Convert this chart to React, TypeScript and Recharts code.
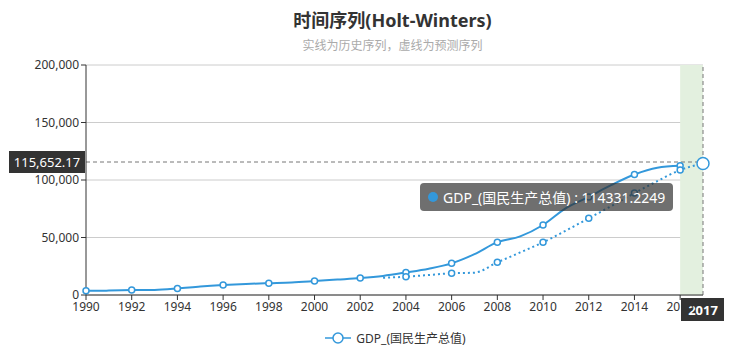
import React from "react";
import {
  LineChart,
  Line,
  XAxis,
  YAxis,
  CartesianGrid,
  Tooltip,
  ReferenceLine,
  ReferenceArea,
} from "recharts";

const years = [
  1990, 1991, 1992, 1993, 1994, 1995, 1996, 1997, 1998, 1999, 2000, 2001, 2002, 2003,
  2004, 2005, 2006, 2007, 2008, 2009, 2010, 2011, 2012, 2013, 2014, 2015, 2016, 2017,
];

// 历史序列
const gdp = [
  3609, 3834, 4269, 4447, 5643, 7345, 8638, 9616, 10290, 10940, 12114, 13394, 14706, 16603,
  19554, 22860, 27521, 35503, 45943, 51017, 60872, 75515, 85322, 95704, 104757, 110616, 112333,
  null,
];

// 预测序列
const forecast = [
  null, null, null, null, null, null, null, null, null, null, null, null, null, 15000,
  15900, 17400, 18900, 19400, 28400, 37000, 45800, 56000, 66700, 77500, 88600, 99000, 108700,
  114331.2249,
];

const xTicks = [1990, 1992, 1994, 1996, 1998, 2000, 2002, 2004, 2006, 2008, 2010, 2012, 2014, 2016];
const yTicks = [0, 50000, 100000, 150000, 200000];
const pointerY = 115652.17;
const pointerX = 2017;
const seriesName = "GDP_(国民生产总值)";

const data = years.map((year, i) => ({ year, gdp: gdp[i], forecast: forecast[i] }));

const COLOR = "#3398DB";
const FONT = "'Noto Sans', 'Noto Sans CJK SC', sans-serif";

const evenDot = (props: any) => {
  const { cx, cy, payload, value, index } = props;
  if (value == null || payload.year % 2 !== 0 || cy == null) return <g key={`d${index}`} />;
  return (
    <circle key={`d${index}`} cx={cx} cy={cy} r={3} fill="#fff" stroke={COLOR} strokeWidth={1.5} />
  );
};

const TipBox = ({ payload }: any) => {
  const p = (payload || []).find((e: any) => e.dataKey === "forecast");
  if (!p) return null;
  return (
    <div
      style={{
        background: "rgba(50,50,50,0.7)",
        borderRadius: 4,
        padding: "4px 8px",
        color: "#fff",
        fontSize: 14,
        fontFamily: FONT,
        whiteSpace: "nowrap",
        display: "flex",
        alignItems: "center",
      }}
    >
      <span
        style={{
          display: "inline-block",
          width: 10,
          height: 10,
          borderRadius: 5,
          background: COLOR,
          marginRight: 5,
        }}
      />
      {seriesName} : {p.value}
    </div>
  );
};

const YPointerLabel = (props: any) => {
  const { viewBox } = props;
  const x = viewBox.x;
  const y = viewBox.y;
  return (
    <g>
      <rect x={x - 77} y={y - 11} width={76} height={22} fill="#333" />
      <text x={x - 39} y={y + 5} textAnchor="middle" fill="#fff" fontSize={13} fontFamily={FONT}>
        {pointerY.toLocaleString("en-US", { minimumFractionDigits: 2 })}
      </text>
    </g>
  );
};

const XPointerLabel = (props: any) => {
  const { viewBox } = props;
  const x = viewBox.x;
  const y = viewBox.y + viewBox.height;
  return (
    <g>
      <rect x={x - 22} y={y + 3} width={43} height={23} fill="#333" />
      <text x={x} y={y + 20} textAnchor="middle" fill="#fff" fontSize={13} fontWeight="bold" fontFamily={FONT}>
        {pointerX}
      </text>
    </g>
  );
};

export default function App() {
  return (
    <div style={{ position: "absolute", left: 0, top: 0, width: 731, height: 355, background: "#fff", fontFamily: FONT }}>
      <div style={{ position: "absolute", left: 27, width: 731, top: 6, textAlign: "center", fontSize: 18, fontWeight: "bold", color: "#333" }}>
        时间序列(Holt-Winters)
      </div>
      <div style={{ position: "absolute", left: 27, width: 731, top: 36, textAlign: "center", fontSize: 12, color: "#aaa" }}>
        实线为历史序列，虚线为预测序列
      </div>
      <LineChart
        width={731}
        height={355}
        data={data}
        margin={{ top: 65, right: 28, bottom: 30, left: 8 }}
      >
        <ReferenceArea x1={2016} x2={2017} fill="#e3f0df" fillOpacity={1} stroke="none" />
        <CartesianGrid vertical={false} stroke="#ccc" />
        <XAxis
          dataKey="year"
          type="number"
          domain={[1990, 2017]}
          ticks={xTicks}
          interval={0}
          height={30}
          tick={{ fill: "#333", fontSize: 12, fontFamily: FONT }}
          tickSize={5}
          stroke="#333"
        />
        <YAxis
          type="number"
          domain={[0, 200000]}
          ticks={yTicks}
          width={78}
          tickFormatter={(v: number) => v.toLocaleString("en-US")}
          tick={{ fill: "#333", fontSize: 12, fontFamily: FONT }}
          tickSize={5}
          stroke="#333"
        />
        <Line
          type="monotone"
          dataKey="gdp"
          name={seriesName}
          stroke={COLOR}
          strokeWidth={2}
          dot={evenDot}
          activeDot={false}
          isAnimationActive={false}
        />
        <Line
          type="monotone"
          dataKey="forecast"
          name={seriesName}
          stroke={COLOR}
          strokeWidth={2}
          strokeDasharray="2 3"
          dot={evenDot}
          activeDot={{ r: 6, fill: "#fff", stroke: COLOR, strokeWidth: 1.5 }}
          isAnimationActive={false}
        />
        <ReferenceLine y={pointerY} stroke="#777" strokeDasharray="4 3" label={<YPointerLabel />} />
        <ReferenceLine x={pointerX} stroke="#777" strokeDasharray="4 3" label={<XPointerLabel />} />
        <Tooltip
          defaultIndex={27}
          active={true}
          cursor={false}
          position={{ x: 420, y: 183 }}
          content={<TipBox />}
          isAnimationActive={false}
        />
      </LineChart>
      <div
        style={{
          position: "absolute",
          top: 329,
          left: 30,
          width: 731,
          display: "flex",
          justifyContent: "center",
          alignItems: "center",
          fontSize: 12,
          color: "#333",
        }}
      >
        <svg width={26} height={14} style={{ marginRight: 5 }}>
          <line x1={0} y1={7} x2={26} y2={7} stroke={COLOR} strokeWidth={1.5} />
          <circle cx={13} cy={7} r={5} fill="#fff" stroke={COLOR} strokeWidth={1.5} />
        </svg>
        {seriesName}
      </div>
    </div>
  );
}
